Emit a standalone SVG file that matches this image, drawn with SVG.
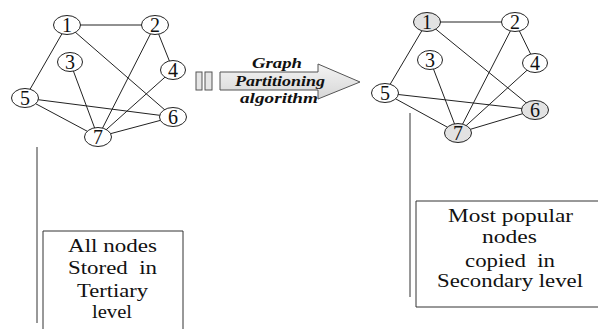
<svg xmlns="http://www.w3.org/2000/svg" width="598" height="329" viewBox="0 0 598 329">
<defs>
<style>
.edge{stroke:#222;stroke-width:1;fill:none}
.node{stroke:#222;stroke-width:1;fill:#fff}
.pop{fill:#e2e2e2}
.box{stroke:#333;stroke-width:1;fill:#fff}
.vl{stroke:#333;stroke-width:1}
</style>
<linearGradient id="ag" x1="0" y1="0" x2="0" y2="1">
<stop offset="0" stop-color="#f4f4f4"/>
<stop offset="1" stop-color="#d6d6d6"/>
</linearGradient>
</defs>
<rect width="598" height="329" fill="#fff"/>
<g id="connectors">
<g id="left-edges">
<line class="edge" x1="67" y1="25" x2="155" y2="25"/>
<line class="edge" x1="67" y1="25" x2="25" y2="98"/>
<line class="edge" x1="67" y1="25" x2="173" y2="117"/>
<line class="edge" x1="155" y1="25" x2="173" y2="70"/>
<line class="edge" x1="155" y1="25" x2="98" y2="137"/>
<line class="edge" x1="70" y1="62" x2="98" y2="137"/>
<line class="edge" x1="173" y1="70" x2="98" y2="137"/>
<line class="edge" x1="25" y1="98" x2="173" y2="117"/>
<line class="edge" x1="25" y1="98" x2="98" y2="137"/>
<line class="edge" x1="173" y1="117" x2="98" y2="137"/>
</g>
<g id="right-edges">
<line class="edge" x1="427" y1="22" x2="515" y2="22"/>
<line class="edge" x1="427" y1="22" x2="385" y2="93"/>
<line class="edge" x1="427" y1="22" x2="535" y2="110"/>
<line class="edge" x1="515" y1="22" x2="535" y2="63"/>
<line class="edge" x1="515" y1="22" x2="458" y2="133"/>
<line class="edge" x1="430" y1="60" x2="458" y2="133"/>
<line class="edge" x1="535" y1="63" x2="458" y2="133"/>
<line class="edge" x1="385" y1="93" x2="535" y2="110"/>
<line class="edge" x1="385" y1="93" x2="458" y2="133"/>
<line class="edge" x1="535" y1="110" x2="458" y2="133"/>
</g>
<line class="vl" x1="37" y1="147" x2="37" y2="323"/>
<line class="vl" x1="410" y1="113" x2="410" y2="297"/>
</g>
<g id="L1"><ellipse class="node" cx="67" cy="25" rx="13.5" ry="9.5"/><text x="67" y="32" font-family="Liberation Serif" font-size="20" fill="#111" text-anchor="middle">1</text></g>
<g id="L2"><ellipse class="node" cx="155" cy="25" rx="13.5" ry="9.5"/><text x="155" y="32" font-family="Liberation Serif" font-size="20" fill="#111" text-anchor="middle">2</text></g>
<g id="L3"><ellipse class="node" cx="70" cy="62" rx="12.5" ry="9.5"/><text x="70" y="69" font-family="Liberation Serif" font-size="20" fill="#111" text-anchor="middle">3</text></g>
<g id="L4"><ellipse class="node" cx="173" cy="70" rx="12.5" ry="9.5"/><text x="173" y="77" font-family="Liberation Serif" font-size="20" fill="#111" text-anchor="middle">4</text></g>
<g id="L5"><ellipse class="node" cx="25" cy="98" rx="13.5" ry="9.5"/><text x="25" y="105" font-family="Liberation Serif" font-size="20" fill="#111" text-anchor="middle">5</text></g>
<g id="L6"><ellipse class="node" cx="173" cy="117" rx="13.5" ry="9.5"/><text x="173" y="124" font-family="Liberation Serif" font-size="20" fill="#111" text-anchor="middle">6</text></g>
<g id="L7"><ellipse class="node" cx="98" cy="137" rx="13.5" ry="9.5"/><text x="98" y="144" font-family="Liberation Serif" font-size="20" fill="#111" text-anchor="middle">7</text></g>
<g id="R1"><ellipse class="node pop" cx="427" cy="22" rx="13.5" ry="9.5"/><text x="427" y="29" font-family="Liberation Serif" font-size="20" fill="#111" text-anchor="middle">1</text></g>
<g id="R2"><ellipse class="node" cx="515" cy="22" rx="13.5" ry="9.5"/><text x="515" y="29" font-family="Liberation Serif" font-size="20" fill="#111" text-anchor="middle">2</text></g>
<g id="R3"><ellipse class="node" cx="430" cy="60" rx="12.5" ry="9.5"/><text x="430" y="67" font-family="Liberation Serif" font-size="20" fill="#111" text-anchor="middle">3</text></g>
<g id="R4"><ellipse class="node" cx="535" cy="63" rx="12.5" ry="9.5"/><text x="535" y="70" font-family="Liberation Serif" font-size="20" fill="#111" text-anchor="middle">4</text></g>
<g id="R5"><ellipse class="node" cx="385" cy="93" rx="13.5" ry="9.5"/><text x="385" y="100" font-family="Liberation Serif" font-size="20" fill="#111" text-anchor="middle">5</text></g>
<g id="R6"><ellipse class="node pop" cx="535" cy="110" rx="13.5" ry="9.5"/><text x="535" y="117" font-family="Liberation Serif" font-size="20" fill="#111" text-anchor="middle">6</text></g>
<g id="R7"><ellipse class="node pop" cx="458" cy="133" rx="13.5" ry="9.5"/><text x="458" y="140" font-family="Liberation Serif" font-size="20" fill="#111" text-anchor="middle">7</text></g>
<g id="arrow">
<rect x="196" y="72" width="6" height="18" fill="#e6e6e6" stroke="#555" stroke-width="1"/>
<rect x="205" y="72" width="7" height="18" fill="#e6e6e6" stroke="#555" stroke-width="1"/>
<path d="M220 72 H318 V64 L360 82 L318 99 V90 H220 Z" fill="url(#ag)" stroke="#555" stroke-width="1"/>
<text x="277" y="68" font-family="Liberation Serif" font-size="15" font-weight="bold" font-style="italic" fill="#111" text-anchor="middle" textLength="50" lengthAdjust="spacingAndGlyphs">Graph</text>
<text x="280" y="86" font-family="Liberation Serif" font-size="15" font-weight="bold" font-style="italic" fill="#111" text-anchor="middle" textLength="90" lengthAdjust="spacingAndGlyphs">Partitioning</text>
<text x="279" y="103" font-family="Liberation Serif" font-size="15" font-weight="bold" font-style="italic" fill="#111" text-anchor="middle" textLength="78" lengthAdjust="spacingAndGlyphs">algorithm</text>
</g>
<g id="box-left">
<path class="box" d="M43 329 V231 H183 V329"/>
<text x="112.5" y="252" font-family="Liberation Serif" font-size="18" fill="#111" text-anchor="middle" textLength="89" lengthAdjust="spacingAndGlyphs">All nodes</text>
<text x="112.5" y="274" font-family="Liberation Serif" font-size="18" fill="#111" text-anchor="middle" xml:space="preserve" textLength="89" lengthAdjust="spacingAndGlyphs">Stored  in</text>
<text x="112.5" y="297" font-family="Liberation Serif" font-size="18" fill="#111" text-anchor="middle" textLength="71" lengthAdjust="spacingAndGlyphs">Tertiary</text>
<text x="112" y="318" font-family="Liberation Serif" font-size="18" fill="#111" text-anchor="middle" textLength="40" lengthAdjust="spacingAndGlyphs">level</text>
</g>
<g id="box-right">
<path class="box" d="M600 201 H416 V307 H600"/>
<text x="510.5" y="222" font-family="Liberation Serif" font-size="18" fill="#111" text-anchor="middle" textLength="125" lengthAdjust="spacingAndGlyphs">Most popular</text>
<text x="509.5" y="243" font-family="Liberation Serif" font-size="18" fill="#111" text-anchor="middle" textLength="55" lengthAdjust="spacingAndGlyphs">nodes</text>
<text x="510" y="267" font-family="Liberation Serif" font-size="18" fill="#111" text-anchor="middle" xml:space="preserve" textLength="90" lengthAdjust="spacingAndGlyphs">copied  in</text>
<text x="510" y="287" font-family="Liberation Serif" font-size="18" fill="#111" text-anchor="middle" textLength="146" lengthAdjust="spacingAndGlyphs">Secondary level</text>
</g>
</svg>
